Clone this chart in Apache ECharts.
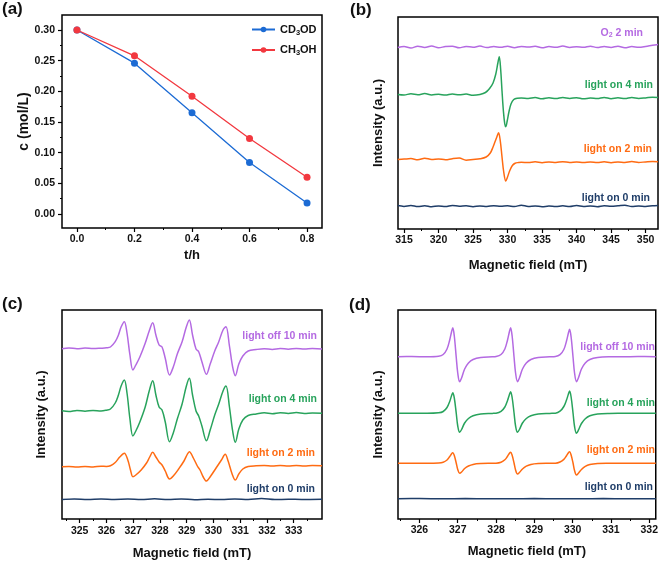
<!DOCTYPE html>
<html>
<head>
<meta charset="utf-8">
<script src="https://cdn.jsdelivr.net/npm/echarts@6/dist/echarts.min.js"></script>
<style>html,body{margin:0;padding:0;background:#fff}#c{width:661px;height:564px}</style>
</head>
<body>
<div id="c"></div>
<script>
// ---------- Panel (a) ----------
const timeH = [0, 0.2, 0.4, 0.6, 0.8];
const cd3od = [0.300, 0.246, 0.165, 0.084, 0.018];
const ch3oh = [0.300, 0.258, 0.192, 0.123, 0.060];
const aXTicks = [0, 0.2, 0.4, 0.6, 0.8];
const aXMinor = [0.1, 0.3, 0.5, 0.7];
const aYTicks = [0, 0.05, 0.10, 0.15, 0.20, 0.25, 0.30];
const aYMinor = [0.025, 0.075, 0.125, 0.175, 0.225, 0.275];

// ---------- Panel (b) ----------
const bXTicks = [315, 320, 325, 330, 335, 340, 345, 350];
const bXMinor = [317.5, 322.5, 327.5, 332.5, 337.5, 342.5, 347.5];
const bO2 = [[314.1,181.5],[315,182.5],[316,181],[317,182.8],[318,181.6],[319,182.9],[320,181.3],[321,182.4],[322,182.8],[323,181.2],[324,182.6],[325,181.8],[326,182.9],[327,181.4],[328,182.5],[329,181.7],[330,182.8],[331,181.3],[332,182.6],[333,181.9],[334,182.7],[335,181.2],[336,182.4],[337,181.8],[338,182.9],[339,181.5],[340,182.3],[341,181.7],[342,182.8],[343,181.4],[344,182.5],[345,181.6],[346,182.7],[347,181.3],[348,182.4],[349,181.8],[350,182.6],[351,183.8],[351.8,184.6]];
const bOn4 = [[314.1,134.5],[315,134],[316,135.2],[317,134.3],[318,135.4],[319,134.1],[320,134.8],[321,133.9],[322,135],[323,134.2],[324,134.9],[325,133.8],[326,134.6],[326.8,136.5],[327.4,140.5],[327.9,146],[328.3,155],[328.6,166],[328.8,172.3],[329.0,160],[329.2,138],[329.4,118],[329.6,105],[329.75,102.3],[329.95,108],[330.2,117],[330.5,125],[330.9,129.5],[331.4,130.8],[332,131],[333,130.5],[334,131.4],[335,130.2],[336,131.2],[337,130.4],[338,131.5],[339,130.6],[340,131.3],[341,130.2],[342,131],[343,130.5],[344,131.6],[345,130.3],[346,131.2],[347,130.4],[348,131.5],[349,130.6],[350,131.1],[351,131.8],[351.8,131.5]];
const bOn2 = [[314.1,69.5],[315,69.9],[316,70.4],[317,69.3],[318,70.8],[319,69.6],[320,70.1],[321,69.2],[322,70.3],[323,70.9],[324,68.8],[325,69.5],[326,70.2],[326.9,72],[327.5,76],[327.9,82],[328.2,87.5],[328.45,92],[328.7,96.3],[328.95,88],[329.2,72],[329.45,57],[329.75,48],[329.95,51],[330.3,58],[330.7,63.5],[331.1,65.8],[331.6,66.5],[332,66.8],[333,66.4],[334,67.2],[335,66.3],[336,67],[337,66.5],[338,67.3],[339,66.6],[340,67.1],[341,66.4],[342,67],[343,66.5],[344,67.2],[345,66.3],[346,67],[347,66.5],[348,67.4],[349,66.6],[350,67.1],[351,67.5],[351.8,67.3]];
const bOn0 = [[314.1,23.4],[315,22.6],[316,23.5],[317,22.4],[318,23.3],[319,22.2],[320,23.1],[321,22.5],[322,23.6],[323,22.8],[324,23.2],[325,22.3],[326,23],[327,22.5],[328,23.3],[329,22.7],[330,23.2],[331,22.4],[332,23.8],[333,22.6],[334,23.1],[335,22.3],[336,22.9],[337,22.5],[338,23.2],[339,22.4],[340,23.4],[341,22.6],[342,23.1],[343,22.3],[344,23.3],[345,22.7],[346,23.2],[347,23.8],[348,22.5],[349,23.1],[350,22.6],[351,23.3],[351.8,23.6]];

// ---------- Panel (c) ----------
const cXTicks = [325, 326, 327, 328, 329, 330, 331, 332, 333];
const cXMinor = [324.5, 325.5, 326.5, 327.5, 328.5, 329.5, 330.5, 331.5, 332.5, 333.5];
const cOff10 = [[324.34,170.2],[324.6,171],[324.9,170.3],[325.2,170.9],[325.5,170.4],[325.8,170.8],[326.0,171.2],[326.15,172],[326.33,177.3],[326.45,184],[326.55,192],[326.67,197.3],[326.77,186],[326.88,164],[326.99,149],[327.1,154],[327.25,162],[327.45,175.7],[327.6,188],[327.73,196.3],[327.85,184],[327.97,174],[328.08,172],[328.2,160.7],[328.36,144],[328.5,152],[328.65,165],[328.83,177.3],[328.99,192.3],[329.1,199],[329.22,184],[329.35,170],[329.45,167.3],[329.57,157.3],[329.74,144.7],[329.88,155],[330.05,168],[330.2,177.3],[330.36,189],[330.47,192.3],[330.6,173],[330.72,152],[330.82,143.3],[330.95,155],[331.1,163],[331.3,168],[331.6,169.5],[331.9,170.3],[332.2,169.6],[332.5,170.5],[332.8,169.8],[333.1,170.6],[333.4,169.9],[333.7,170.4],[334.06,170]];
const cOn4 = [[324.34,108.3],[324.6,107.5],[324.9,108.6],[325.2,107.8],[325.5,108.5],[325.8,108],[326.0,108.8],[326.15,110],[326.33,116],[326.45,124],[326.55,133],[326.67,139],[326.77,126],[326.88,100],[326.99,83],[327.1,88],[327.25,97],[327.45,112],[327.6,128],[327.73,138.3],[327.85,124],[327.97,112],[328.08,109],[328.2,97],[328.36,77.3],[328.5,86],[328.65,100],[328.83,115],[328.99,133],[329.1,140.7],[329.22,124],[329.35,108],[329.45,103],[329.57,93],[329.74,78.3],[329.88,89],[330.05,104],[330.2,115],[330.36,128],[330.47,133],[330.6,112],[330.72,88],[330.82,76.7],[330.95,90],[331.1,99],[331.3,103.5],[331.6,105],[331.9,106.2],[332.2,105.3],[332.5,106.3],[332.8,105.5],[333.1,106.4],[333.4,105.6],[333.7,106.1],[334.06,105.8]];
const cOn2 = [[324.34,52.2],[324.6,52.6],[324.9,52],[325.2,52.5],[325.5,52.1],[325.8,52.7],[326.0,52.6],[326.15,53.3],[326.33,56.5],[326.5,62],[326.67,65.7],[326.8,59],[326.9,49],[326.99,42.3],[327.1,44],[327.3,49],[327.5,56],[327.62,62],[327.73,66.7],[327.85,62],[327.97,57],[328.08,54],[328.2,48],[328.36,40],[328.5,43],[328.7,50],[328.9,58],[329.03,65],[329.1,67.3],[329.25,61],[329.4,53],[329.5,49],[329.62,42],[329.74,38],[329.9,43],[330.1,51],[330.3,59],[330.44,64.7],[330.55,58],[330.7,45],[330.82,39],[330.95,45],[331.1,50],[331.3,52.5],[331.6,53.2],[331.9,53.5],[332.2,53],[332.5,53.6],[332.8,53.1],[333.1,53.5],[333.4,53],[333.7,53.4],[334.06,53.2]];
const cOn0 = [[324.34,19.5],[324.8,20],[325.3,19.4],[325.8,20.1],[326.3,19.6],[326.8,19.9],[327.3,19.4],[327.8,20.2],[328.3,19.5],[328.8,20],[329.3,19.3],[329.8,19.8],[330.3,19.4],[330.8,19.9],[331.3,19.5],[331.8,20.4],[332.3,19.4],[332.8,19.8],[333.3,19.5],[334.06,19.7]];

// ---------- Panel (d) ----------
const dXTicks = [326, 327, 328, 329, 330, 331, 332];
const dXMinor = [325.5, 326.5, 327.5, 328.5, 329.5, 330.5, 331.5];
const dOff10 = [[325.44,162.3],[325.8,162.4],[326.2,162.3],[326.5,162.8],[326.62,164.5],[326.72,170],[326.79,179],[326.84,187.5],[326.87,191.3],[326.91,183],[326.96,162],[327.0,146],[327.05,137.3],[327.1,141],[327.18,150],[327.28,156],[327.4,159.5],[327.6,161.5],[327.9,162.2],[328.0,162.5],[328.13,164.5],[328.23,170],[328.3,179],[328.35,187.5],[328.38,191.3],[328.42,183],[328.47,162],[328.51,146],[328.56,137.3],[328.61,141],[328.69,150],[328.79,156],[328.91,159.5],[329.1,161.5],[329.4,162.2],[329.55,162.5],[329.67,164.3],[329.77,169.5],[329.84,178],[329.89,186],[329.92,189.7],[329.96,182],[330.01,162],[330.05,146],[330.1,137.3],[330.15,141],[330.23,150],[330.33,156],[330.45,159.5],[330.65,161.5],[330.95,162.2],[331.3,162.3],[331.7,162.4],[332.17,162.3]];
const dOn4 = [[325.44,105.7],[325.8,105.8],[326.2,105.7],[326.5,106.2],[326.62,107.5],[326.72,111.5],[326.79,117.5],[326.84,123.5],[326.87,126.3],[326.91,121],[326.96,106],[327.0,93],[327.05,86.7],[327.1,89.5],[327.18,96],[327.28,100.5],[327.4,103.3],[327.6,105],[327.9,105.6],[328.0,105.8],[328.13,107.6],[328.23,112],[328.3,118.5],[328.35,124.5],[328.38,127.3],[328.42,121.5],[328.47,106],[328.51,93],[328.56,86.7],[328.61,89.5],[328.69,96],[328.79,100.5],[328.91,103.3],[329.1,105],[329.4,105.6],[329.55,105.8],[329.67,107.8],[329.77,112.5],[329.84,119],[329.89,125],[329.92,128],[329.96,122],[330.01,106],[330.05,92.5],[330.1,85.7],[330.15,88.8],[330.23,95.5],[330.33,100.3],[330.45,103.2],[330.65,105],[330.95,105.6],[331.3,105.7],[331.7,105.8],[332.17,105.7]];
const dOn2 = [[325.44,55.7],[325.8,55.8],[326.2,55.7],[326.5,56],[326.62,56.8],[326.72,59],[326.79,62.5],[326.84,65.3],[326.87,66.3],[326.91,63.5],[326.96,56],[327.0,49.5],[327.05,45.7],[327.1,47],[327.18,50.5],[327.28,53],[327.4,54.6],[327.6,55.4],[327.9,55.7],[328.0,55.8],[328.13,56.8],[328.23,59.2],[328.3,62.8],[328.35,65.7],[328.38,66.7],[328.42,63.8],[328.47,56],[328.51,49],[328.56,45],[328.61,46.5],[328.69,50],[328.79,52.8],[328.91,54.5],[329.1,55.4],[329.4,55.7],[329.55,55.8],[329.67,57],[329.77,59.6],[329.84,63.3],[329.89,66.2],[329.92,67.3],[329.96,64],[330.01,56],[330.05,48.5],[330.1,44],[330.15,45.8],[330.23,49.5],[330.33,52.6],[330.45,54.4],[330.65,55.4],[330.95,55.7],[331.3,55.8],[331.7,55.7],[332.17,55.8]];
const dOn0 = [[325.44,20.3],[326.0,20.4],[326.6,20.2],[327.2,20.4],[327.8,20.3],[328.4,20.2],[329.0,20.4],[329.6,20.3],[330.2,20.2],[330.8,20.4],[331.4,20.3],[332.17,20.3]];

const FONT = "'Liberation Sans', Arial, sans-serif";
const C_PURPLE = '#b46ae2', C_GREEN = '#28a35c', C_ORANGE = '#ff6b12', C_NAVY = '#1f3d68';
const C_BLUE = '#1c6bd4', C_RED = '#f2383f';

const grids = [
  {left: 62, top: 15, width: 260, height: 213},
  {left: 398, top: 17, width: 260, height: 212},
  {left: 62, top: 310, width: 260, height: 209},
  {left: 398, top: 310, width: 260, height: 209}
].map(g => Object.assign({show: true, borderColor: '#000', borderWidth: 1.5, backgroundColor: 'transparent'}, g));

const lblStyle = {fontFamily: FONT, fontWeight: 'bold', fontSize: 10.5, color: '#111'};
const nameStyle = {fontFamily: FONT, fontWeight: 'bold', fontSize: 13, color: '#111'};
const noLine = {show: false, onZero: false};

function mainX(gi, min, max, ticks, fmt, margin, name, gap) {
  return {
    type: 'value', gridIndex: gi, min: min, max: max, position: 'bottom',
    axisLine: noLine, splitLine: {show: false},
    axisTick: {show: true, inside: false, length: 4, customValues: ticks, lineStyle: {color: '#000', width: 1.2}},
    axisLabel: Object.assign({show: true, margin: margin, customValues: ticks, formatter: fmt}, lblStyle),
    name: name, nameLocation: 'middle', nameGap: gap, nameTextStyle: nameStyle
  };
}
function minorX(gi, min, max, ticks) {
  return {
    type: 'value', gridIndex: gi, min: min, max: max, position: 'bottom', offset: 0,
    axisLine: noLine, splitLine: {show: false}, axisLabel: {show: false},
    axisTick: {show: true, inside: false, length: 2, customValues: ticks, lineStyle: {color: '#000', width: 1}}
  };
}
function specY(gi, max, gap) {
  return {
    type: 'value', gridIndex: gi, min: 0, max: max,
    axisLine: noLine, axisTick: {show: false}, axisLabel: {show: false}, splitLine: {show: false},
    name: 'Intensity (a.u.)', nameLocation: 'middle', nameGap: gap, nameTextStyle: nameStyle
  };
}

const xAxes = [
  mainX(0, -0.052, 0.852, aXTicks, v => v.toFixed(1), 6, 't/h', 21),
  minorX(0, -0.052, 0.852, aXMinor),
  mainX(1, 314.13, 351.8, bXTicks, v => String(v), 5.5, 'Magnetic field (mT)', 30),
  minorX(1, 314.13, 351.8, bXMinor),
  mainX(2, 324.34, 334.06, cXTicks, v => String(v), 7, 'Magnetic field (mT)', 28),
  minorX(2, 324.34, 334.06, cXMinor),
  mainX(3, 325.44, 332.17, dXTicks, v => String(v), 5.5, 'Magnetic field (mT)', 26),
  minorX(3, 325.44, 332.17, dXMinor)
];

const yAxes = [
  {
    type: 'value', gridIndex: 0, min: -0.0228, max: 0.3245, position: 'left',
    axisLine: noLine, splitLine: {show: false},
    axisTick: {show: true, inside: false, length: 4, customValues: aYTicks, lineStyle: {color: '#000', width: 1.2}},
    axisLabel: Object.assign({margin: 7, customValues: aYTicks, formatter: v => v.toFixed(2)}, lblStyle),
    name: 'c (mol/L)', nameLocation: 'middle', nameGap: 28, nameTextStyle: Object.assign({}, nameStyle, {fontSize: 14})
  },
  {
    type: 'value', gridIndex: 0, min: -0.0228, max: 0.3245, position: 'left', offset: 0,
    axisLine: noLine, splitLine: {show: false}, axisLabel: {show: false},
    axisTick: {show: true, inside: false, length: 2, customValues: aYMinor, lineStyle: {color: '#000', width: 1}}
  },
  specY(1, 212, 13),
  specY(2, 209, 14),
  specY(3, 209, 13)
];

function spec(xi, yi, data, color) {
  return {type: 'line', xAxisIndex: xi, yAxisIndex: yi, data: data, showSymbol: false, symbol: 'none',
    smooth: 0.35, lineStyle: {color: color, width: 1.5}, itemStyle: {color: color}, silent: true, animation: false};
}

const series = [
  {name: 'CD3OD', type: 'line', xAxisIndex: 0, yAxisIndex: 0, data: timeH.map((t, i) => [t, cd3od[i]]),
   symbol: 'circle', symbolSize: 7, lineStyle: {color: C_BLUE, width: 1.3}, itemStyle: {color: C_BLUE}, animation: false, z: 3},
  {name: 'CH3OH', type: 'line', xAxisIndex: 0, yAxisIndex: 0, data: timeH.map((t, i) => [t, ch3oh[i]]),
   symbol: 'circle', symbolSize: 7, lineStyle: {color: C_RED, width: 1.3}, itemStyle: {color: C_RED}, animation: false, z: 4},
  spec(2, 2, bO2, C_PURPLE), spec(2, 2, bOn4, C_GREEN), spec(2, 2, bOn2, C_ORANGE), spec(2, 2, bOn0, C_NAVY),
  spec(4, 3, cOff10, C_PURPLE), spec(4, 3, cOn4, C_GREEN), spec(4, 3, cOn2, C_ORANGE), spec(4, 3, cOn0, C_NAVY),
  spec(6, 4, dOff10, C_PURPLE), spec(6, 4, dOn4, C_GREEN), spec(6, 4, dOn2, C_ORANGE), spec(6, 4, dOn0, C_NAVY)
];

const subRich = {
  a: {fontFamily: FONT, fontWeight: 'bold', fontSize: 11, color: '#111'},
  s: {fontFamily: FONT, fontWeight: 'bold', fontSize: 7.5, color: '#111', verticalAlign: 'bottom', padding: [6, 0, 0, 0]}
};

function tlabel(text, right, cy, color) {
  return {type: 'text', x: right, y: cy, silent: true,
    style: {text: text, fill: color, font: 'bold 10.5px ' + FONT, textAlign: 'right', textVerticalAlign: 'middle'}};
}
function panelLabel(text, x, cy) {
  return {type: 'text', x: x, y: cy, silent: true,
    style: {text: text, fill: '#111', font: 'bold 17px ' + FONT, textAlign: 'left', textVerticalAlign: 'middle'}};
}

const graphics = [
  panelLabel('(a)', 2, 9), panelLabel('(b)', 350, 10), panelLabel('(c)', 2, 304), panelLabel('(d)', 349, 305),
  {type: 'text', x: 643, y: 33, silent: true,
   style: {text: '{a|O}{s|2}{a| 2 min}', fill: C_PURPLE, textAlign: 'right', textVerticalAlign: 'middle',
     font: 'bold 10.5px ' + FONT,
     rich: {a: {fontFamily: FONT, fontWeight: 'bold', fontSize: 10.5, fill: C_PURPLE},
            s: {fontFamily: FONT, fontWeight: 'bold', fontSize: 7, fill: C_PURPLE, padding: [5, 0, 0, 0]}}}},
  tlabel('light on 4 min', 653, 85, C_GREEN),
  tlabel('light on 2 min', 652, 149, C_ORANGE),
  tlabel('light on 0 min', 650, 198, C_NAVY),
  tlabel('light off 10 min', 317, 336, C_PURPLE),
  tlabel('light on 4 min', 317, 399, C_GREEN),
  tlabel('light on 2 min', 315, 453, C_ORANGE),
  tlabel('light on 0 min', 315, 489, C_NAVY),
  tlabel('light off 10 min', 655, 347, C_PURPLE),
  tlabel('light on 4 min', 655, 403, C_GREEN),
  tlabel('light on 2 min', 655, 450, C_ORANGE),
  tlabel('light on 0 min', 653, 487, C_NAVY)
];

const chart = echarts.init(document.getElementById('c'), null, {renderer: 'canvas'});
chart.setOption({
  animation: false,
  backgroundColor: '#fff',
  grid: grids,
  xAxis: xAxes,
  yAxis: yAxes,
  legend: {
    data: ['CD3OD', 'CH3OH'], orient: 'vertical', left: 251, top: 24,
    itemWidth: 23, itemHeight: 7, itemGap: 8, padding: 0,
    formatter: n => n === 'CD3OD' ? '{a|CD}{s|3}{a|OD}' : '{a|CH}{s|3}{a|OH}',
    textStyle: {fontFamily: FONT, fontWeight: 'bold', fontSize: 11, color: '#111', rich: subRich}
  },
  series: series,
  graphic: graphics
});
</script>
</body>
</html>
